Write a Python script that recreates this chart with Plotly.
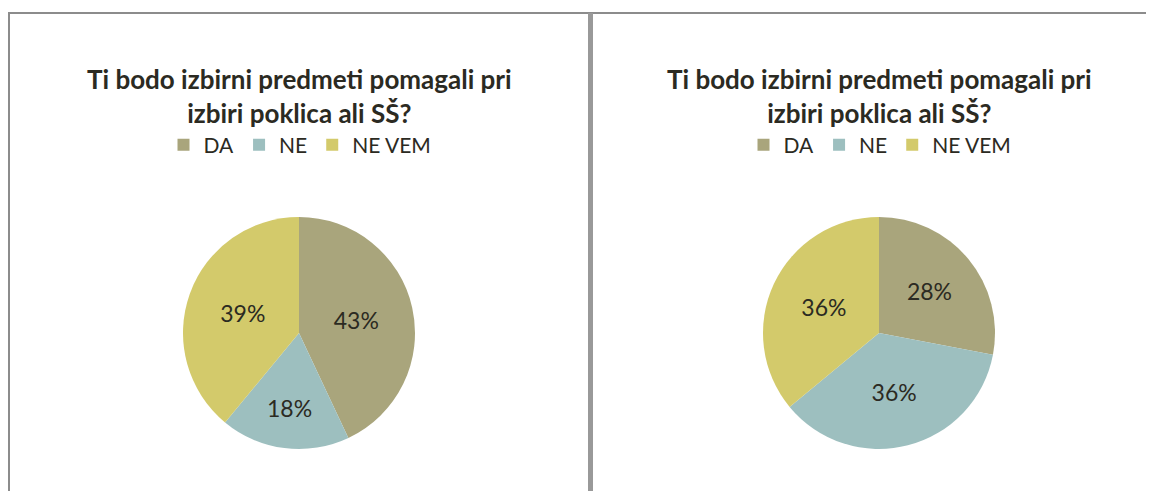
import plotly.graph_objects as go

labels = ["DA", "NE", "NE VEM"]
values_left = [43, 18, 39]
values_right = [28, 36, 36]
title_text = "Ti bodo izbirni predmeti pomagali pri<br>izbiri poklica ali SŠ?"
colors = ["#A9A57C", "#9DBFBF", "#D3CA6B"]

W, H = 1154, 491
FONT = "Lato"
TXT = "#2b2a22"
OFF = 8  # page body margin

def px(x):
    # x measured in screen pixels from the left
    return (x - OFF) / W

def py(y):
    # y measured in screen pixels from the top
    return 1 - (y - OFF) / H

fig = go.Figure()

# left pie
fig.add_trace(go.Pie(labels=labels, values=values_left, sort=False, direction="clockwise",
                     rotation=0, marker=dict(colors=colors),
                     textinfo="percent", textposition="inside", insidetextorientation="horizontal",
                     textfont=dict(size=23, color=TXT, family=FONT),
                     domain=dict(x=[px(183), px(415)], y=[py(449), py(217)]),
                     legend="legend", hoverinfo="label+percent"))

# right pie (zero-width space keeps its legend entries apart from the left one)
labels_right = [l + "\u200b" for l in labels]
fig.add_trace(go.Pie(labels=labels_right, values=values_right, sort=False, direction="clockwise",
                     rotation=0, marker=dict(colors=colors),
                     textinfo="percent", textposition="inside", insidetextorientation="horizontal",
                     textfont=dict(size=23, color=TXT, family=FONT),
                     domain=dict(x=[px(763), px(995)], y=[py(449), py(217)]),
                     legend="legend2", hoverinfo="label+percent"))

# titles
for cx in [299, 879]:
    fig.add_annotation(text="<b>" + title_text + "</b>", x=px(cx), y=py(96),
                       xref="paper", yref="paper", showarrow=False,
                       font=dict(size=26, color=TXT, family=FONT),
                       xanchor="center", yanchor="middle")

# panel borders
border = "#8c8c8c"
fig.add_shape(type="rect", xref="paper", yref="paper", x0=px(7), x1=px(1170), y0=py(14), y1=py(12),
              fillcolor=border, line=dict(width=0))
fig.add_shape(type="rect", xref="paper", yref="paper", x0=px(8), x1=px(10), y0=py(500), y1=py(13),
              fillcolor=border, line=dict(width=0))
fig.add_shape(type="rect", xref="paper", yref="paper", x0=px(588), x1=px(593), y0=py(500), y1=py(13),
              fillcolor="#999999", line=dict(width=0))

leg = dict(orientation="h", xanchor="center", yanchor="middle",
           font=dict(size=21, color=TXT, family=FONT), bgcolor="rgba(0,0,0,0)",
           itemclick=False, itemdoubleclick=False)
fig.update_layout(
    width=W, height=H,
    margin=dict(l=0, r=0, t=0, b=0),
    paper_bgcolor="white", plot_bgcolor="white",
    legend=dict(leg, x=px(300), y=py(145)),
    legend2=dict(leg, x=px(880), y=py(145)),
)

fig.write_html("out.html")
